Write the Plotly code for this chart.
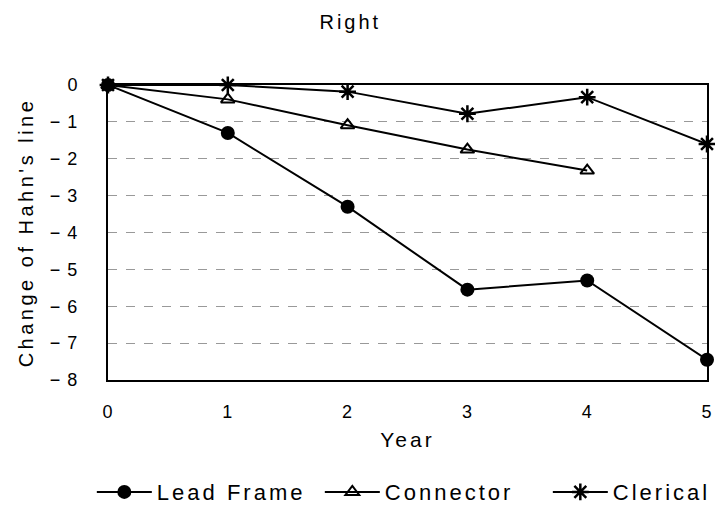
import plotly.graph_objects as go

years = [0, 1, 2, 3, 4, 5]
lead_frame = [0, -1.3, -3.3, -5.55, -5.3, -7.45]
connector_years = [0, 1, 2, 3, 4]
connector = [0, -0.39, -1.09, -1.75, -2.32]
clerical = [0, 0, -0.18, -0.78, -0.33, -1.6]
y_ticks = [0, -1, -2, -3, -4, -5, -6, -7, -8]
y_tick_labels = ["0", "\u2212 1", "\u2212 2", "\u2212 3", "\u2212 4", "\u2212 5", "\u2212 6", "\u2212 7", "\u2212 8"]

FONT = "Liberation Sans, Arial, sans-serif"

fig = go.Figure()
fig.add_trace(go.Scatter(x=years, y=lead_frame, name="Lead Frame", mode="lines+markers",
                         line=dict(color="black", width=2),
                         marker=dict(symbol="circle", size=14, color="black"),
                         cliponaxis=False))
fig.add_trace(go.Scatter(x=connector_years, y=connector, name="Connector", mode="lines+markers",
                         line=dict(color="black", width=2),
                         marker=dict(symbol="triangle-up-open", size=12, color="black",
                                     line=dict(width=2, color="black")),
                         cliponaxis=False))
fig.add_trace(go.Scatter(x=years, y=clerical, name="Clerical", mode="lines+markers",
                         line=dict(color="black", width=2),
                         marker=dict(symbol="asterisk-open", size=14, color="black",
                                     line=dict(width=2.5, color="black")),
                         cliponaxis=False))

fig.update_layout(
    width=715, height=507,
    margin=dict(l=108, r=8, t=85, b=127, autoexpand=False),
    paper_bgcolor="white", plot_bgcolor="white",
    font=dict(family=FONT, size=18, color="black"),
    title=dict(text="Right", x=0.49, xanchor="center", y=1 - 22 / 507, yanchor="middle",
               font=dict(size=20, family=FONT)),
    showlegend=True,
    legend=dict(orientation="h", x=-0.027, xanchor="left", y=-0.38, yanchor="middle",
                font=dict(size=22, family=FONT), itemwidth=55, tracegroupgap=0,
                entrywidth=158, entrywidthmode="pixels",
                bgcolor="rgba(0,0,0,0)"),
)
fig.update_xaxes(range=[0, 5], tickmode="array", tickvals=years, ticks="",
                 showline=True, linecolor="black", linewidth=2, mirror=True,
                 showgrid=False, zeroline=False, ticklabelstandoff=14,
                 title=dict(text="Year", font=dict(size=21), standoff=12),
                 tickfont=dict(size=18))
fig.update_yaxes(range=[-8, 0], tickmode="array", tickvals=y_ticks, ticktext=y_tick_labels,
                 ticks="", showline=True, linecolor="black", linewidth=2, mirror=True,
                 showgrid=True, gridcolor="#999999", griddash="dash", gridwidth=1,
                 zeroline=False, ticklabelstandoff=24,
                 title=dict(text="Change of Hahn's line", font=dict(size=20), standoff=14),
                 tickfont=dict(size=18))

post = """
document.body.style.margin = '0';
var gd = document.getElementById('{plot_id}');
function spaceText() {
  gd.querySelectorAll('.gtitle').forEach(function(e){ e.style.letterSpacing = '3px'; });
  gd.querySelectorAll('.xtitle').forEach(function(e){ e.style.letterSpacing = '3px'; });
  gd.querySelectorAll('.ytitle').forEach(function(e){ e.style.letterSpacing = '3.5px'; });
  gd.querySelectorAll('.legendtext').forEach(function(e){ e.style.letterSpacing = '3px'; });
  gd.querySelectorAll('.xtick text, .ytick text').forEach(function(e){ e.style.letterSpacing = '1px'; });
}
spaceText();
gd.on('plotly_afterplot', spaceText);
"""

fig.write_html("out.html", post_script=post, config={"displayModeBar": False})
